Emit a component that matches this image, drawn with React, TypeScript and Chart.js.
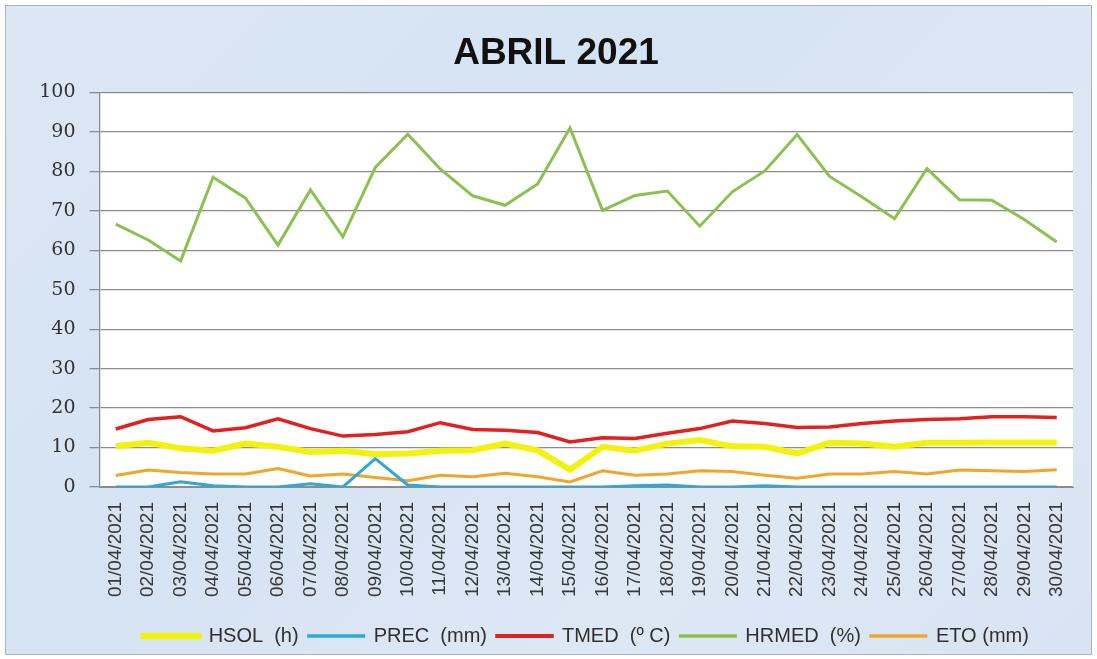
import React, { useEffect, useRef } from "react";
import { Chart, registerables } from "chart.js";

Chart.register(...registerables);

const days: string[] = [
  "01/04/2021", "02/04/2021", "03/04/2021", "04/04/2021", "05/04/2021", "06/04/2021",
  "07/04/2021", "08/04/2021", "09/04/2021", "10/04/2021", "11/04/2021", "12/04/2021",
  "13/04/2021", "14/04/2021", "15/04/2021", "16/04/2021", "17/04/2021", "18/04/2021",
  "19/04/2021", "20/04/2021", "21/04/2021", "22/04/2021", "23/04/2021", "24/04/2021",
  "25/04/2021", "26/04/2021", "27/04/2021", "28/04/2021", "29/04/2021", "30/04/2021",
];

const hsol: number[] = [10.3, 11.2, 9.8, 9.2, 11.0, 10.2, 8.9, 9.2, 8.3, 8.5, 9.2, 9.3, 11.0, 9.3, 4.4,
  10.2, 9.2, 11.0, 11.9, 10.3, 10.2, 8.5, 11.2, 11.0, 10.2, 11.2, 11.2, 11.3, 11.3, 11.3];
const prec: number[] = [0, 0, 1.3, 0.3, 0, 0, 0.8, 0, 7.2, 0.5, 0, 0, 0, 0, 0,
  0, 0.3, 0.5, 0, 0, 0.3, 0, 0, 0, 0, 0, 0, 0, 0, 0];
const tmed: number[] = [14.7, 17.1, 17.8, 14.2, 15.0, 17.3, 14.8, 12.9, 13.3, 14.0, 16.3, 14.6, 14.4, 13.8, 11.4,
  12.5, 12.3, 13.6, 14.8, 16.7, 16.1, 15.1, 15.2, 16.1, 16.7, 17.1, 17.3, 17.8, 17.8, 17.6];
const hrmed: number[] = [66.6, 62.6, 57.3, 78.5, 73.2, 61.3, 75.3, 63.4, 81.0, 89.4, 80.6, 73.8, 71.4, 76.8, 91.0,
  70.1, 73.9, 75.0, 66.1, 74.8, 80.1, 89.3, 78.7, 73.5, 68.0, 80.7, 72.8, 72.7, 67.8, 62.1];
const eto: number[] = [2.9, 4.3, 3.7, 3.3, 3.3, 4.7, 2.8, 3.3, 2.4, 1.6, 3.0, 2.6, 3.5, 2.6, 1.3,
  4.1, 3.0, 3.3, 4.1, 3.9, 3.0, 2.2, 3.3, 3.3, 3.9, 3.3, 4.3, 4.1, 3.9, 4.4];

const seriesNames: string[] = ["HSOL  (h)", "PREC  (mm)", "TMED  (º C)", "HRMED  (%)", "ETO (mm)"];
const yTicks: number[] = [0, 10, 20, 30, 40, 50, 60, 70, 80, 90, 100];
const title = "ABRIL 2021";

const plotBg = {
  id: "plotBg",
  beforeDraw(chart: any) {
    const { ctx, chartArea } = chart;
    if (!chartArea) return;
    ctx.save();
    ctx.fillStyle = "#ffffff";
    ctx.fillRect(chartArea.left, chartArea.top, chartArea.right - chartArea.left, chartArea.bottom - chartArea.top);
    ctx.restore();
  },
};

export default function App() {
  const ref = useRef<HTMLCanvasElement | null>(null);

  useEffect(() => {
    if (!ref.current) return;
    const mk = (label: string, data: number[], color: string, width: number) => ({
      label,
      data,
      borderColor: color,
      backgroundColor: color,
      borderWidth: width,
      pointRadius: 0,
      pointHoverRadius: 0,
      tension: 0,
      fill: false,
    });
    const chart = new Chart(ref.current, {
      type: "line",
      data: {
        labels: days,
        datasets: [
          mk(seriesNames[0], hsol, "#f2f20c", 6),
          mk(seriesNames[1], prec, "#2fa8d8", 3),
          mk(seriesNames[2], tmed, "#e3201e", 3.5),
          mk(seriesNames[3], hrmed, "#8cc152", 3),
          mk(seriesNames[4], eto, "#f0a62a", 3),
        ],
      },
      options: {
        responsive: false,
        animation: false,
        layout: { padding: { left: 39, right: 24, top: 0, bottom: 3 } },
        plugins: {
          title: {
            display: true,
            text: title,
            color: "#111111",
            font: { family: "'Liberation Sans', Arial, sans-serif", size: 37, weight: "bold" },
            padding: { top: 32, bottom: 16 },
          },
          legend: {
            position: "bottom",
            fullSize: false,
            labels: {
              color: "#303030",
              font: { family: "'Liberation Sans', Arial, sans-serif", size: 20 },
              boxWidth: 55,
              boxHeight: 0.5,
              padding: 10,
            },
          },
          tooltip: { enabled: false },
        },
        scales: {
          x: {
            offset: true,
            grid: { display: false },
            border: { display: true, color: "#8c8c8c", width: 1 },
            ticks: {
              autoSkip: false,
              minRotation: 90,
              maxRotation: 90,
              padding: 7,
              color: "#383838",
              font: { family: "'Liberation Sans', Arial, sans-serif", size: 19 },
            },
            afterFit(scale: any) {
              scale.height = 129;
            },
          },
          y: {
            min: 0,
            max: 100,
            afterBuildTicks(scale: any) {
              scale.ticks = yTicks.map((v) => ({ value: v }));
            },
            grid: { color: "#8c8c8c", lineWidth: 1.3, tickLength: 10, drawTicks: true },
            border: { display: true, color: "#8c8c8c", width: 1.3 },
            ticks: {
              padding: 14,
              color: "#333333",
              font: { family: "'DejaVu Serif', serif", size: 19 },
            },
            afterFit(scale: any) {
              scale.width = 60.5;
            },
          },
        },
      },
      plugins: [plotBg],
    });
    return () => chart.destroy();
  }, []);

  return (
    <div style={{ position: "fixed", left: 0, top: 0, width: 1097, height: 659, background: "#ffffff" }}>
      <div
        style={{
          position: "absolute",
          left: 5,
          top: 5,
          width: 1085,
          height: 648,
          border: "1px solid #a8b4c2",
          background: "linear-gradient(135deg, #dbe7f5 0%, #d6e3f2 40%, #dde8f5 70%, #d8e4f3 100%)",
        }}
      />
      <canvas ref={ref} width={1097} height={659} style={{ position: "absolute", left: 0, top: 0 }} />
    </div>
  );
}
